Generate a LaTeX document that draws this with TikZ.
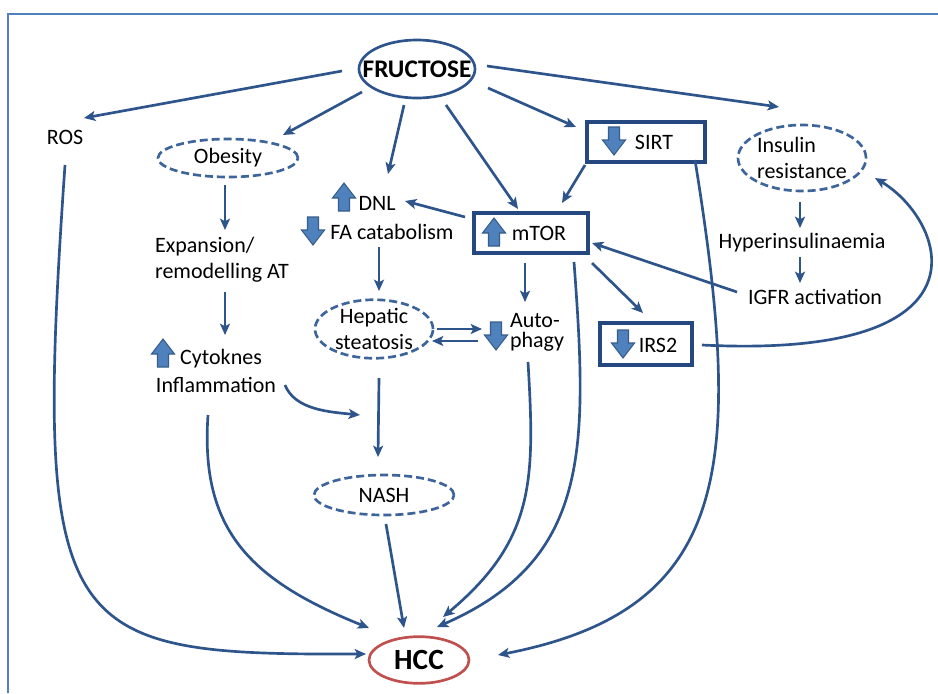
\documentclass[tikz,border=0pt]{standalone}
\usepackage{fontspec}
\setmainfont{Carlito}
\usetikzlibrary{shapes.geometric,arrows.meta,calc}
\definecolor{conncol}{RGB}{46,84,140}
\definecolor{boxcol}{RGB}{38,72,128}
\definecolor{dashcol}{RGB}{61,100,155}
\definecolor{framecol}{RGB}{79,129,189}
\definecolor{blockfill}{RGB}{79,129,189}
\definecolor{blockline}{RGB}{56,93,138}
\definecolor{hcccol}{RGB}{192,80,77}
\begin{document}
\begin{tikzpicture}[x=0.75pt,y=-0.75pt,
  every node/.style={font=\fontsize{16.5}{19.5}\selectfont, inner sep=0pt},
  txt/.style={},
  conn/.style={draw=conncol, line width=2pt, -{Stealth[length=8.5pt,width=7.5pt,inset=2pt]}},
  dell/.style={ellipse, draw=dashcol, line width=2pt, dash pattern=on 6pt off 3pt, align=center},
  boxst/.style={rectangle, draw=boxcol, line width=2.5pt},
  fructose/.style={ellipse, draw=conncol, line width=2pt, inner xsep=-12pt, inner ysep=-4pt, minimum width=87pt, minimum height=43.5pt, font=\fontsize{19}{21}\selectfont\bfseries},
  hccst/.style={ellipse, draw=hcccol, line width=2pt, inner xsep=-4pt, inner ysep=-2pt, minimum width=75pt, minimum height=35pt, font=\fontsize{22}{24}\selectfont\bfseries},
  blockarr/.style={fill=blockfill, draw=blockline, line width=0.8pt},
  uparr/.pic={\filldraw[blockarr] (-5.5,14) -- (-5.5,1) -- (-11.5,1) -- (0,-14) -- (11.5,1) -- (5.5,1) -- (5.5,14) -- cycle;},
  downarr/.pic={\filldraw[blockarr] (-5.5,-14) -- (-5.5,-1) -- (-11.5,-1) -- (0,14) -- (11.5,-1) -- (5.5,-1) -- (5.5,-14) -- cycle;},
]
\useasboundingbox (0,0) rectangle (938,693);
\fill[white] (0,0) rectangle (938,693);
\draw[framecol, line width=1.1pt] (8,693) -- (8,14) -- (938,14);

% nodes
\node[fructose] (fru) at (417,69) {FRUCTOSE};
\node[txt] (ros) at (65,137) {ROS};
\node[dell, minimum width=105pt, minimum height=28.5pt] (obe) at (228,158) {Obesity};
\node[txt] (dnl) at (377,203) {DNL};
\pic (dnlicon) at (344,197) {uparr};
\node[txt] (fa) at (392,232) {FA catabolism};
\pic (faicon) at (313,231) {downarr};
\node[boxst, minimum width=85.5pt, minimum height=30pt] (mtor) at (531,233) {};
\pic (mtoricon) at (494,232) {uparr};
\node[txt] (mtortxt) at (539,233) {mTOR};
\node[boxst, minimum width=88.5pt, minimum height=30pt] (sirt) at (646,142) {};
\pic (sirticon) at (614,141) {downarr};
\node[txt] (sirttxt) at (654,142) {SIRT};
\node[dell, minimum width=96pt, minimum height=49.5pt, align=left] (ins) at (802,158) {Insulin\\resistance};
\node[txt] (hyp) at (802,243) {Hyperinsulinaemia};
\node[txt] (igfr) at (815,297) {IGFR activation};
\node[boxst, minimum width=69pt, minimum height=31.5pt] (irs) at (646,344) {};
\pic (irsicon) at (623,344) {downarr};
\node[txt] (irstxt) at (658,345) {IRS2};
\node[txt, align=left] (exp) at (222,260) {Expansion/\\remodelling AT};
\node[txt] (cyt) at (221,359) {Cytoknes};
\pic (cyticon) at (163,353) {uparr};
\node[txt] (infl) at (216,385) {Inflammation};
\node[dell, minimum width=88.5pt, minimum height=43.5pt] (hep) at (374,329) {Hepatic\\steatosis};
\node[txt, align=left, font=\fontsize{16.5}{15}\selectfont] (aut) at (537,332) {Auto-\\phagy};
\pic (auticon) at (496,336) {downarr};
\node[dell, minimum width=105pt, minimum height=30pt] (nash) at (384,495) {NASH};
\node[hccst] (hcc) at (419,660) {HCC};
\coordinate (cytend) at (360,415);

% connectors from fructose
\draw[conn] ($(fru)+(-75,2)$) -- ($(ros)+(19,-19)$);
\draw[conn] ($(fru)+(-55,23)$) -- ($(obe)+(55,-23)$);
\draw[conn] ($(fru)+(-13,36)$) -- ($(dnl)+(11,-29)$);
\draw[conn] ($(fru)+(29,36)$) -- ($(mtor)+(-13,-24)$);
\draw[conn] ($(fru)+(71,19)$) -- ($(sirt)+(-70,-15)$);
\draw[conn] ($(fru)+(70,-3)$) -- ($(ins)+(-23,-51)$);

% middle
\draw[conn] ($(sirt)+(-61,23)$) -- ($(mtor)+(31,-30)$);
\draw[conn] ($(mtor)+(-66,-16)$) -- ($(dnl)+(28,-2)$);
\draw[conn] ($(obe)+(-3,27)$) -- ($(exp)+(3,-30)$);
\draw[conn] ($(exp)+(3,32)$) -- ($(cyt)+(4,-24)$);
\draw[conn] ($(fa)+(-13,15)$) -- ($(hep)+(5,-38)$);
\draw[conn] ($(hep)+(63,0)$) -- ($(aut)+(-55,-3)$);
\draw[conn] ($(aut)+(-59,9)$) -- ($(hep)+(58,12)$);
\draw[conn] ($(mtor)+(-6,30)$) -- ($(aut)+(-12,-30)$);
\draw[conn] ($(mtor)+(61,30)$) -- ($(irs)+(-3,-31)$);
\draw[conn] ($(igfr)+(-78,-5)$) -- ($(mtor)+(61,10)$);
\draw[conn] ($(ins)+(-2,44)$) -- ($(hyp)+(-2,-15)$);
\draw[conn] ($(hyp)+(-2,14)$) -- ($(igfr)+(-15,-14)$);
\draw[conn] ($(irs)+(56,1)$) .. controls +(298,15) and +(70,42) .. ($(ins)+(73,20)$);
\draw[conn] ($(infl)+(69,0)$) .. controls +(10,25) and +(-30,-3) .. (cytend);
\draw[conn] ($(hep)+(5,49)$) -- ($(nash)+(-6,-38)$);
\draw[conn] ($(nash)+(2,29)$) -- ($(hcc)+(-15,-32)$);

% into HCC
\draw[conn] ($(ros)+(0,28)$) .. controls +(-33,475) and +(-306,1) .. ($(hcc)+(-53,-6)$);
\draw[conn] ($(infl)+(-8,30)$) .. controls +(-8,115) and +(-119,-48) .. ($(hcc)+(-50,-32)$);
\draw[conn] ($(aut)+(-9,30)$) .. controls +(7,118) and +(92,-77) .. ($(hcc)+(24,-43)$);
\draw[conn] ($(mtor)+(43,29)$) .. controls +(14,188) and +(153,-67) .. ($(hcc)+(18,-33)$);
\draw[conn] ($(sirt)+(49,18)$) .. controls +(50,310) and +(232,-45) .. ($(hcc)+(79,-5)$);
\end{tikzpicture}
\end{document}
